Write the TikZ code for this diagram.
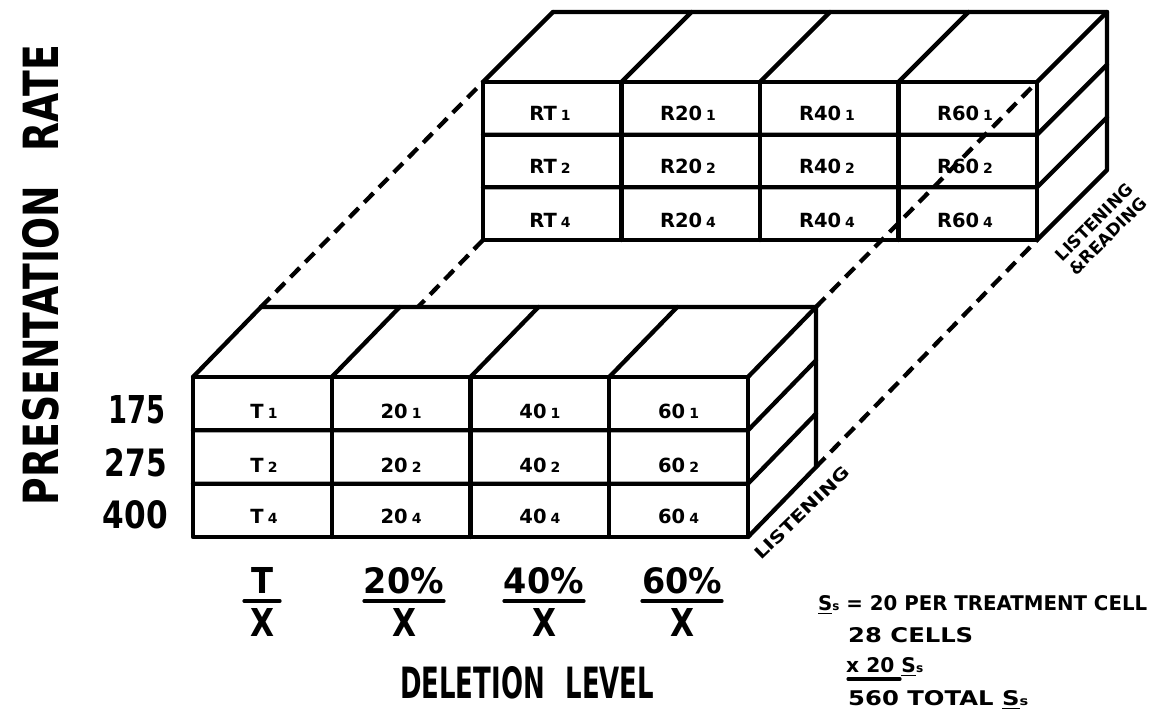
\documentclass[tikz,border=0pt]{standalone}
\usepackage{fontspec}
\setmainfont{DejaVu Sans}
\usepackage{graphicx}
\usetikzlibrary{calc}
\newcommand\fitbox[3]{\resizebox{#1pt}{#2pt}{#3}}
\newcommand\fith[2]{\resizebox{!}{#1pt}{#2}}
\newcommand\lowd[1]{\hspace{4pt}{\fontsize{14}{14}\selectfont #1}}
\newcommand\ulS{\underline{S}{\fontsize{0.6em}{1em}\selectfont s}}
\begin{document}
\begin{tikzpicture}[x=1pt,y=-1pt,
  edge/.style={line width=4.3pt,line join=round,line cap=round},
  hid/.style={line width=4.3pt,dash pattern=on 13pt off 8pt},
  cell/.style={inner sep=0pt,font=\fontsize{19.5}{21}\selectfont\bfseries},
  lbl/.style={inner sep=0pt,font=\bfseries},
  uline/.style={line width=3.2pt,line cap=round}]
\useasboundingbox (0,0) rectangle (1150,716);
\fill[white] (0,0) rectangle (1150,716);

% ---------- bottom block (LISTENING) ----------
\coordinate (bFTL) at (193,377);
\coordinate (bFTR) at (748,377);
\coordinate (bFBL) at (193,537);
\coordinate (bFBR) at (748,537);
\coordinate (bBTL) at (261,307);
\coordinate (bBTR) at (816,307);
\coordinate (bBBR) at (816,467);
\draw[edge] (bFTL) rectangle (bFBR);
\foreach \y in {430.3,483.7} \draw[edge] (193,\y) -- (748,\y) -- ++(68,-70);
\foreach \x in {331.75,470.5,609.25} \draw[edge] (\x,377) -- (\x,537);
\foreach \x in {193,331.75,470.5,609.25,748} \draw[edge] (\x,377) -- ++(68,-70);
\draw[edge] (bBTL) -- (bBTR) -- (bBBR) -- (bFBR);

% ---------- top block (LISTENING & READING) ----------
\coordinate (tFTL) at (483,82);
\coordinate (tFTR) at (1037,82);
\coordinate (tFBL) at (483,240);
\coordinate (tFBR) at (1037,240);
\coordinate (tBTL) at (553,12);
\coordinate (tBTR) at (1107,12);
\coordinate (tBBR) at (1107,170);
\draw[edge] (tFTL) rectangle (tFBR);
\foreach \y in {134.7,187.3} \draw[edge] (483,\y) -- (1037,\y) -- ++(70,-70);
\foreach \x in {621.5,760,898.5} \draw[edge] (\x,82) -- (\x,240);
\foreach \x in {483,621.5,760,898.5,1037} \draw[edge] (\x,82) -- ++(70,-70);
\draw[edge] (tBTL) -- (tBTR) -- (tBBR) -- (tFBR);

% ---------- hidden (dashed) connectors ----------
\coordinate (hEnd) at (418,307);
\draw[hid] (bBTL) -- (tFTL);
\draw[hid] (tFBL) -- (hEnd);
\draw[hid] (bBTR) -- (tFTR);
\draw[hid] (bBBR) -- (tFBR);

% ---------- cell labels ----------
\foreach \c/\cx/\lab in {0/550/RT,1/688/R20,2/827/R40,3/965/R60}
  \foreach \r/\by/\s in {0/120/1,1/173/2,2/227/4}
    \node[cell,anchor=base] (tc\c\r) at (\cx,\by) {\lab\lowd{\s}};
\foreach \c/\cx/\lab in {0/264/T,1/401.1/20,2/539.9/40,3/678.6/60}
  \foreach \r/\by/\s in {0/418/1,1/472/2,2/523/4}
    \node[cell,anchor=base] (bc\c\r) at (\cx,\by) {\lab\lowd{\s}};

% ---------- axis texts ----------
\node[lbl,rotate=90,anchor=base] (pr) at (58,275) {\fitbox{460}{36}{PRESENTATION\hspace{0.9em}RATE}};
\node[lbl,anchor=base east] (r1) at (166,423) {\fitbox{57}{28}{175}};
\node[lbl,anchor=base east] (r2) at (167,476) {\fitbox{62}{28}{275}};
\node[lbl,anchor=base east] (r3) at (168,528) {\fitbox{65}{28}{400}};

\node[lbl,anchor=base] (d0) at (262,593) {\fitbox{22}{26}{T}};
\node[lbl,anchor=base] (d1) at (404,593) {\fitbox{80}{26}{20\%}};
\node[lbl,anchor=base] (d2) at (544,593) {\fitbox{80}{26}{40\%}};
\node[lbl,anchor=base] (d3) at (682,593) {\fitbox{80}{26}{60\%}};
\draw[uline] ($(d0.base)+(-18,8)$) -- ($(d0.base)+(18,8)$);
\foreach \i in {1,2,3} \draw[uline] ($(d\i.base)+(-40,8)$) -- ($(d\i.base)+(40,8)$);
\foreach \i/\x in {0/262,1/404,2/544,3/682}
  \node[lbl,anchor=base] (x\i) at (\x,636) {\fitbox{24}{28}{X}};

\node[lbl,anchor=base west] (dl) at (400,698) {\fitbox{254}{32}{DELETION\hspace{0.8em}LEVEL}};

\node[lbl,rotate=44,anchor=center] (ls1) at (802,513) {\fitbox{125}{12.5}{LISTENING}};
\node[lbl,rotate=45,anchor=center,align=center,font=\fontsize{17}{19.5}\selectfont\bfseries] (ls2) at (1101,229) {LISTENING\\\&READING};

% ---------- notes ----------
\node[lbl,anchor=base west] (n1) at (818,610) {\fitbox{329}{15}{\ulS\ = 20 PER TREATMENT CELL}};
\node[lbl,anchor=base west] (n2) at (848,642) {\fitbox{125}{15}{28 CELLS}};
\node[lbl,anchor=base west] (n3) at (846,672) {\fith{15}{x 20 \ulS}};
\draw[uline] ($(n3.base west)+(2,7)$) -- ($(n3.base west)+(54,7)$);
\node[lbl,anchor=base west] (n4) at (848,705) {\fitbox{180}{15}{560 TOTAL \ulS}};
\end{tikzpicture}
\end{document}
